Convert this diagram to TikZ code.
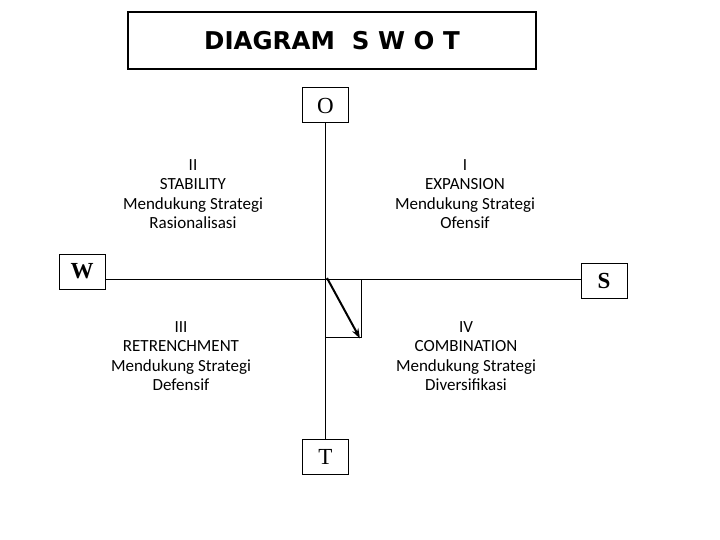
\documentclass[tikz,border=0pt]{standalone}
\usepackage{fontspec}
\setmainfont{Liberation Serif}
\newfontfamily\quadfont{Carlito}
\newfontfamily\headfont{DejaVu Sans}
\usetikzlibrary{arrows.meta,positioning}
\definecolor{ink}{RGB}{0,0,0}
\tikzset{
  >={Stealth[length=3.5mm,width=2.4mm]},
  headbox/.style={draw=ink,line width=1.8pt,minimum width=408pt,minimum height=57pt,
    font=\headfont\fontsize{24.5}{28}\selectfont\bfseries},
  letter/.style={draw=ink,line width=1pt,minimum width=46pt,minimum height=35pt,
    inner sep=0pt,font=\fontsize{23}{25}\selectfont},
  quad/.style={align=center,font=\quadfont\fontsize{17}{19.5}\selectfont,text=ink},
  axis/.style={draw=ink,line width=1pt},
  flow/.style={->,draw=ink,line width=2pt},
}

\begin{document}
\begin{tikzpicture}[x=1pt,y=-1pt]
    \useasboundingbox (0,0) rectangle (720,540);
    % title
    \node[headbox] (title) at (332,40.5) {DIAGRAM\ \ S W O T};
    % axes
    \node[letter] (O) at (325.5,105.5) {O};
    \node[letter] (T) at (325.5,457) {T};
    \node[letter,font=\fontsize{23}{25}\selectfont\bfseries] (W) at (82,271.5) {W};
    \node[letter,font=\fontsize{23}{25}\selectfont\bfseries] (S) at (604,280.5) {S};
    \coordinate (c) at (325.5,279);
    \coordinate (q) at (361,337);
    \draw[axis] (O.south) -- (T.north);
    \draw[axis] (W.east |- c) -- (S.west |- c);
    \draw[axis] (c) rectangle (q);
    \draw[flow] ([xshift=1.5pt,yshift=1pt]c) -- ([xshift=-1pt,yshift=-1.5pt]q);
    % quadrants
    \node[quad] (q2) at (193,194) {II\\STABILITY\\Mendukung Strategi\\Rasionalisasi};
    \node[quad] (q1) at (465,194) {I\\EXPANSION\\Mendukung Strategi\\Ofensif};
    \node[quad] (q3) at (181,356) {III\\RETRENCHMENT\\Mendukung Strategi\\Defensif};
    \node[quad] (q4) at (466,356) {IV\\COMBINATION\\Mendukung Strategi\\Diversifikasi};
\end{tikzpicture}
\end{document}
